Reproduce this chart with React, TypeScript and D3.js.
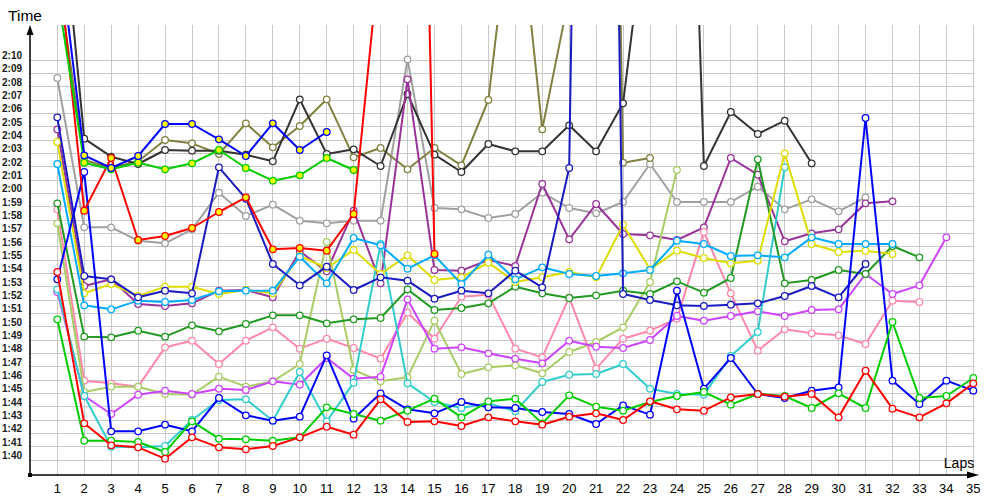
import React from "react";
import * as d3 from "d3";

// Lap numbers and y tick values (seconds)
const laps: number[] = d3.range(1, 36);
const yTicks: number[] = d3.range(100, 131);

// Lap times in seconds per driver (series), lap 1 first
const redTimes = [114.1, 102.75, 101.1, 100.95, 100.1, 101.7, 100.95, 100.8, 101.05, 101.7, 102.5, 101.9, 104.55, 102.85, 102.9, 102.55, 103.2, 102.9, 102.65, 103.25, 103.5, 103.0, 104.4, 103.8, 103.7, 104.7, 104.95, 104.75, 104.95, 103.2, 106.7, 103.85, 103.2, 104.25, 105.75];
const greenTimes = [110.55, 101.45, 101.45, 101.35, 100.6, 102.9, 101.6, 101.55, 101.45, 101.7, 103.95, 103.45, 102.95, 103.7, 104.6, 103.2, 104.4, 104.6, 102.75, 104.85, 104.0, 103.7, 104.35, 104.8, 105.1, 104.15, 104.95, 104.8, 103.9, 105.0, 103.9, 110.35, 104.65, 104.8, 106.15];
const blueTimes = [113.55, 121.6, 102.15, 102.15, 102.65, 102.15, 104.65, 103.35, 102.95, 103.25, 107.85, 103.1, 105.0, 103.8, 103.5, 104.35, 103.95, 103.9, 103.6, 103.45, 102.7, 104.1, 103.4, 112.7, 105.35, 107.65, 104.95, 104.65, 105.2, 105.45, 125.65, 105.95, 104.2, 105.95, 105.2];
const cyanTimes = [112.8, 104.8, 101.0, 100.95, 101.05, 103.0, 104.5, 104.55, 102.95, 106.6, 102.9, 105.8, 116.2, 105.75, 104.35, 103.9, 104.25, 103.65, 105.85, 106.4, 106.45, 107.2, 105.35, 104.95, 104.9, 107.8, 109.6, 121.95];
const violetTimes = [112.6, 104.8, 103.45, 104.9, 105.2, 104.95, 105.35, 105.25, 105.9, 105.65, 107.65, 106.1, 106.25, 112.05, 108.35, 108.45, 108.0, 107.6, 107.25, 108.95, 108.5, 108.4, 109.0, 110.8, 110.45, 110.8, 111.15, 110.8, 111.25, 111.3, 113.95, 112.45, 113.1, 116.7];
const lightOliveTimes = [117.75, 105.1, 105.5, 105.5, 104.95, 104.9, 106.25, 105.5, 105.9, 107.2, 116.35, 106.75, 105.9, 106.2, 110.45, 106.45, 106.95, 107.1, 106.5, 108.1, 108.85, 109.95, 113.35, 121.75];
const pinkTimes = [118.8, 105.95, 105.75, 105.5, 108.45, 108.95, 107.2, 108.95, 109.95, 108.35, 109.1, 108.4, 107.6, 111.05, 109.1, 112.25, 112.4, 108.35, 107.7, 112.2, 106.85, 109.1, 109.7, 110.6, 117.1, 112.5, 108.2, 109.8, 109.5, 109.35, 108.7, 111.95, 111.85];
const darkGreenTimes = [119.25, 109.25, 109.2, 109.7, 109.25, 110.1, 109.65, 110.2, 110.85, 110.85, 110.25, 110.55, 110.65, 112.8, 111.25, 111.4, 111.75, 113.0, 112.5, 112.15, 112.35, 112.7, 112.45, 113.4, 112.55, 113.65, 122.55, 113.25, 113.5, 114.25, 113.95, 116.05, 115.2];
const navyTimes = [125.7, 113.8, 113.55, 112.2, 112.7, 112.5, 121.95, 119.6, 114.7, 113.1, 114.5, 112.75, 113.7, 113.45, 112.1, 112.7, 112.5, 114.2, 112.95, 121.9, 250, 112.45, 112.0, 111.6, 111.55, 111.65, 111.75, 112.3, 113.05, 112.2, 114.7];
const yellowTimes = [123.85, 112.5, 113.2, 112.3, 113.0, 113.0, 112.45, 112.75, 112.5, 115.3, 114.4, 115.75, 113.95, 115.35, 113.5, 113.7, 114.8, 113.35, 113.7, 114.1, 113.7, 117.65, 114.3, 115.7, 115.15, 114.75, 114.95, 123.0, 116.2, 115.6, 115.7, 115.45];
const skyBlueTimes = [122.2, 111.6, 111.3, 111.95, 111.85, 112.0, 112.65, 112.7, 112.7, 115.25, 113.25, 116.65, 116.1, 114.35, 115.35, 113.2, 115.4, 113.55, 114.45, 113.95, 113.8, 114.0, 114.25, 116.45, 116.2, 115.3, 115.35, 115.2, 116.7, 116.2, 116.2, 116.2];
const purpleTimes = [124.8, 113.05, 113.55, 111.7, 111.55, 111.75, 112.7, 112.75, 112.2, 115.65, 114.15, 118.7, 113.25, 128.55, 114.25, 114.2, 115.0, 114.55, 120.7, 116.55, 119.2, 116.95, 116.85, 116.5, 117.45, 122.65, 121.4, 116.4, 117.0, 117.3, 119.25, 119.4];
const grayTimes = [128.65, 117.45, 117.45, 116.45, 116.25, 117.3, 120.05, 118.3, 119.15, 117.95, 117.75, 117.95, 117.95, 130.05, 118.9, 118.8, 118.15, 118.45, 120.05, 118.9, 118.5, 119.35, 122.2, 119.35, 119.35, 119.35, 120.5, 118.8, 119.55, 118.65, 119.7];
const redYellowTimes = [138.2, 118.7, 122.65, 116.5, 116.8, 117.4, 118.6, 119.7, 115.8, 115.9, 115.7, 118.45, 138.6, 210, 115.45];
const greenYellowTimes = [135.0, 122.3, 121.8, 122.3, 121.8, 122.25, 123.25, 121.9, 120.95, 121.35, 122.65, 121.75];
const blueYellowTimes = [139.4, 122.85, 121.9, 122.8, 125.2, 125.2, 124.05, 122.8, 125.25, 123.25, 124.6];
const blackTimes = [145.2, 124.1, 122.75, 122.2, 123.25, 123.2, 123.2, 122.9, 122.4, 127.05, 122.95, 123.3, 122.05, 127.45, 122.9, 121.6, 123.7, 123.15, 123.15, 125.1, 123.15, 126.75, 143, 184, 122.05, 126.1, 124.45, 125.45, 122.25];
const oliveTimes = [136.5, 122.5, 121.9, 122.4, 124.0, 123.75, 122.95, 125.25, 123.45, 125.05, 127.05, 122.7, 123.4, 121.8, 123.4, 122.1, 127.0, 144, 124.8, 134.8, 240, 122.3, 122.65];

type Series = { name: string; values: number[]; color: string; fill: string };

const series: Series[] = [
  { name: "Gray", values: grayTimes, color: "#a0a0a0", fill: "#ffffff" },
  { name: "Olive", values: oliveTimes, color: "#808040", fill: "#ffffff" },
  { name: "Black", values: blackTimes, color: "#333333", fill: "#ffffff" },
  { name: "Purple", values: purpleTimes, color: "#993399", fill: "#ffffff" },
  { name: "Pink", values: pinkTimes, color: "#ff88aa", fill: "#ffffff" },
  { name: "LightOlive", values: lightOliveTimes, color: "#a8cc66", fill: "#ffffff" },
  { name: "Violet", values: violetTimes, color: "#cc44ff", fill: "#ffffff" },
  { name: "Cyan", values: cyanTimes, color: "#33cccc", fill: "#ffffff" },
  { name: "DarkGreen", values: darkGreenTimes, color: "#229922", fill: "#ffffff" },
  { name: "Yellow", values: yellowTimes, color: "#dddd00", fill: "#ffffff" },
  { name: "SkyBlue", values: skyBlueTimes, color: "#00aaff", fill: "#ffffff" },
  { name: "Navy", values: navyTimes, color: "#1a1ac0", fill: "#ffffff" },
  { name: "Blue", values: blueTimes, color: "#0000ff", fill: "#ffffff" },
  { name: "Green", values: greenTimes, color: "#00cc00", fill: "#ffffff" },
  { name: "Red", values: redTimes, color: "#ff0000", fill: "#ffffff" },
  { name: "RedY", values: redYellowTimes, color: "#ff0000", fill: "#ffff00" },
  { name: "GreenY", values: greenYellowTimes, color: "#00cc00", fill: "#ffff00" },
  { name: "BlueY", values: blueYellowTimes, color: "#0000ff", fill: "#ffff00" },
];

const fmt = (v: number) => `${Math.floor(v / 60)}:${String(v % 60).padStart(2, "0")}`;

export default function App() {
  const x = d3.scaleLinear().domain([1, 35]).range([57.3, 973.3]);
  const y = d3.scaleLinear().domain([100, 130]).range([460, 60]);
  const left = 30, top = 25, bottom = 475, right = 985, gridRight = 975;
  const line = d3
    .line<number>()
    .x((_, i) => x(i + 1))
    .y((v) => y(v));

  return (
    <svg
      width={1000}
      height={500}
      style={{ position: "absolute", left: 0, top: 0, background: "#fff" }}
      fontFamily="'Liberation Sans', Arial, sans-serif"
    >
      <defs>
        <clipPath id="plot">
          <rect x={left} y={top} width={right - left} height={bottom - top} />
        </clipPath>
      </defs>
      <rect x={0} y={0} width={1000} height={500} fill="#fff" />
      {/* grid */}
      <g stroke="#c8c8c8" strokeWidth={1} shapeRendering="crispEdges">
        {yTicks.map((t) => (
          <line key={"h" + t} x1={left} x2={gridRight} y1={y(t)} y2={y(t)} />
        ))}
        {laps.map((l) => (
          <line key={"v" + l} x1={x(l)} x2={x(l)} y1={top} y2={bottom} />
        ))}
      </g>
      {/* series */}
      <g clipPath="url(#plot)">
        {series.map((s) => (
          <g key={s.name}>
            <path d={line(s.values) || ""} fill="none" stroke={s.color} strokeWidth={2} strokeLinejoin="round" />
            {s.values.map((v, i) =>
              y(v) >= top ? (
                <circle key={i} cx={x(i + 1)} cy={y(v)} r={3.3} fill={s.fill} stroke={s.color} strokeWidth={1.3} />
              ) : null
            )}
          </g>
        ))}
      </g>
      {/* axes */}
      <line x1={left} x2={left} y1={top + 8} y2={bottom} stroke="#000" strokeWidth={1.5} />
      <polygon points={`${left},${top} ${left - 3.5},${top + 10} ${left + 3.5},${top + 10}`} fill="#000" />
      <line x1={left} x2={right - 12} y1={bottom} y2={bottom} stroke="#000" strokeWidth={1.5} />
      <polygon points={`${right - 6},${bottom} ${right - 18},${bottom - 3.5} ${right - 18},${bottom + 3.5}`} fill="#000" />
      <rect x={left - 2} y={bottom - 2} width={4} height={4} fill="#000" />
      {/* y tick labels */}
      {yTicks.map((t) => (
        <text key={"yl" + t} x={22} y={y(t) - 1} textAnchor="end" fontSize={10} fontWeight="bold" fill="#1a1a1a">
          {fmt(t)}
        </text>
      ))}
      {/* x tick labels */}
      {laps.map((l) => (
        <text key={"xl" + l} x={x(l)} y={493} textAnchor="middle" fontSize={13} fill="#000">
          {l}
        </text>
      ))}
      <text x={25} y={21} textAnchor="middle" fontSize={15.5} fill="#000">Time</text>
      <text x={959} y={468} textAnchor="middle" fontSize={14} fill="#000">Laps</text>
    </svg>
  );
}
